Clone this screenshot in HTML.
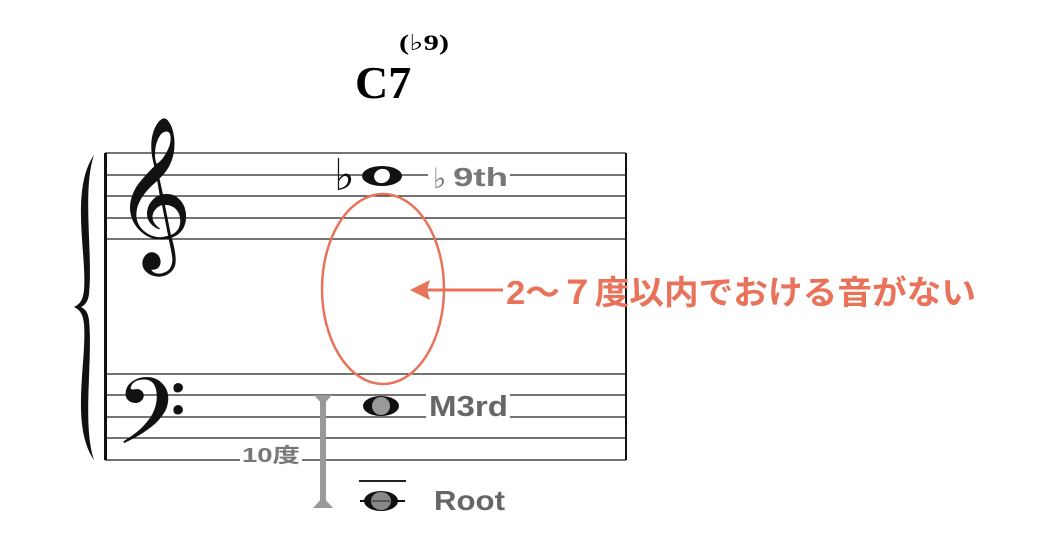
<!DOCTYPE html>
<html><head><meta charset="utf-8"><style>
html,body{margin:0;padding:0;background:#fff;}
svg{display:block;}
</style></head><body>
<svg width="1051" height="542" viewBox="0 0 1051 542" xmlns="http://www.w3.org/2000/svg">
<rect width="1051" height="542" fill="#fff"/>
<text x="355" y="98" font-family="Liberation Serif, serif" font-weight="bold" font-size="46">C7</text>
<text x="399" y="50" font-family="Liberation Serif, DejaVu Sans, serif" font-weight="bold" font-size="22" textLength="50" lengthAdjust="spacingAndGlyphs">(♭9)</text>
<g stroke="#222" stroke-width="1.3">
<line x1="105" y1="153" x2="626" y2="153"/>
<line x1="105" y1="175" x2="626" y2="175"/>
<line x1="105" y1="196" x2="626" y2="196"/>
<line x1="105" y1="218" x2="626" y2="218"/>
<line x1="105" y1="239" x2="626" y2="239"/>
<line x1="105" y1="374" x2="626" y2="374"/>
<line x1="105" y1="395" x2="626" y2="395"/>
<line x1="105" y1="417" x2="626" y2="417"/>
<line x1="105" y1="438" x2="626" y2="438"/>
<line x1="105" y1="460" x2="626" y2="460"/>
<line x1="359" y1="481" x2="406" y2="481" stroke-width="2"/>
</g>
<line x1="105.5" y1="153" x2="105.5" y2="460" stroke="#111" stroke-width="3"/>
<line x1="626" y1="153" x2="626" y2="460" stroke="#111" stroke-width="2"/>
<path d="M94 155 C70 190 87 255 84 290 C83 300 80 304 74 307 C80 310 83 314 84 324 C87 362 70 425 94 460 C82 425 93 360 89 320 C88 312 85 309 81 307 C85 305 88 302 89 294 C93 254 82 190 94 155 Z" fill="#111"/>
<text x="114" y="238" font-family="DejaVu Sans, serif" font-size="133" fill="#111">𝄞</text>
<text x="115" y="462" font-family="DejaVu Sans, serif" font-size="112" fill="#111">𝄢</text>
<text x="334" y="190" font-family="DejaVu Sans, sans-serif" font-size="44" fill="#111">♭</text>
<ellipse cx="382" cy="176" rx="20" ry="10" fill="#111"/>
<ellipse cx="382" cy="176" rx="8" ry="7" fill="#fff" transform="rotate(-20 382 176)"/>
<rect x="428" y="160" width="82" height="30" fill="#fff"/>
<text x="433" y="188" font-family="DejaVu Sans, sans-serif" font-size="28" fill="#777">♭</text>
<text x="453" y="186" font-family="Liberation Sans, sans-serif" font-size="26" fill="#777" font-weight="bold" textLength="55" lengthAdjust="spacingAndGlyphs">9th</text>
<ellipse cx="381" cy="406" rx="18" ry="10" fill="#111"/>
<ellipse cx="381" cy="406" rx="9" ry="9" fill="#999"/>
<rect x="426" y="392" width="84" height="28" fill="#fff"/>
<text x="429" y="416" font-family="Liberation Sans, sans-serif" font-size="29" font-weight="bold" fill="#666" textLength="79" lengthAdjust="spacingAndGlyphs">M3rd</text>
<line x1="360" y1="501" x2="405" y2="501" stroke="#111" stroke-width="2"/>
<ellipse cx="381" cy="501" rx="17" ry="10" fill="#111"/>
<ellipse cx="381" cy="501" rx="10" ry="9" fill="#888"/>
<line x1="372" y1="501" x2="390" y2="501" stroke="#444" stroke-width="1.5"/>
<text x="434" y="510" font-family="Liberation Sans, sans-serif" font-size="28" font-weight="bold" fill="#666" textLength="71" lengthAdjust="spacingAndGlyphs">Root</text>
<rect x="240" y="440" width="62" height="24" fill="#fff"/>
<text x="242" y="462" font-family="Liberation Sans, Noto Sans CJK JP, sans-serif" font-size="20" font-weight="bold" fill="#777" textLength="58" lengthAdjust="spacingAndGlyphs">10度</text>
<rect x="320" y="400" width="6" height="102" fill="#999"/>
<polygon points="314,395 332,395 323,405" fill="#999"/>
<polygon points="313,508 333,508 323,497" fill="#999"/>
<ellipse cx="383" cy="289" rx="61" ry="95" fill="none" stroke="#e8735a" stroke-width="2.5"/>
<line x1="425" y1="290" x2="503" y2="290" stroke="#e8735a" stroke-width="3"/>
<polygon points="410,290 430,280 427,290 430,300" fill="#e8735a"/>
<text x="506" y="304" font-family="Liberation Sans, Noto Sans CJK JP, sans-serif" font-size="33" font-weight="bold" fill="#e8735a" textLength="470" lengthAdjust="spacingAndGlyphs">2〜７度以内でおける音がない</text>
</svg>
</body></html>
